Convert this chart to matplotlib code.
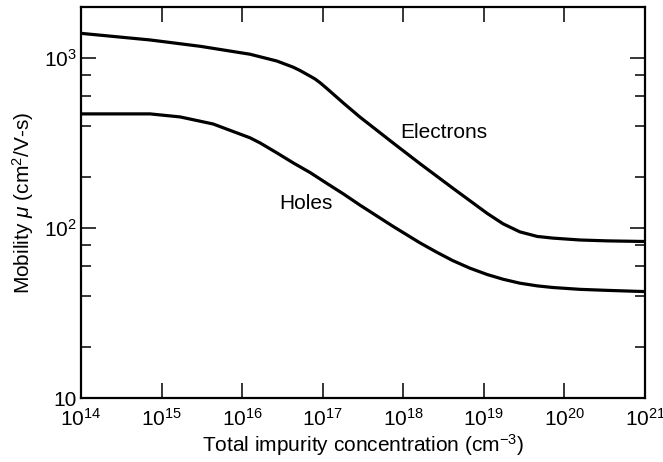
import matplotlib
matplotlib.use('Agg')
import matplotlib.pyplot as plt
from matplotlib.ticker import FixedLocator, NullLocator, NullFormatter

plt.rcParams['font.family'] = ['Liberation Sans', 'DejaVu Sans']
plt.rcParams['mathtext.fontset'] = 'custom'
plt.rcParams['mathtext.rm'] = 'Liberation Sans'
plt.rcParams['mathtext.it'] = 'Liberation Sans:italic'

# values (cm^-3, cm^2/V-s)
electron_conc = [1.0e14, 7.2e14, 3.0e15, 1.25e16, 2.7e16, 4.3e16, 5.2e16, 7.0e16, 8.0e16,
                 9.3e16, 1.13e17, 1.8e17, 2.9e17, 7.4e17, 1.6e18, 4.1e18, 1.1e19,
                 1.73e19, 2.8e19, 4.6e19, 7.2e19, 1.56e20, 3.4e20, 1.0e21]
electron_mob = [1400, 1280, 1175, 1055, 962, 885, 847, 783, 755,
                716, 662, 545, 450, 318, 240, 172, 122,
                106, 95, 89.3, 87.3, 85.1, 84.1, 83.4]

hole_conc = [1.0e14, 7.2e14, 1.7e15, 4.35e15, 1.25e16, 1.67e16, 2.7e16, 4.3e16, 7.0e16,
             1.13e17, 1.8e17, 2.9e17, 7.4e17, 1.6e18, 2.6e18, 4.1e18, 6.7e18, 1.1e19,
             1.73e19, 2.8e19, 4.6e19, 7.2e19, 1.56e20, 3.4e20, 1.0e21]
hole_mob = [470, 470, 451, 410, 340, 317, 277, 242, 212,
            183, 159, 136.5, 102.6, 82.0, 72.1, 64.4, 58.1, 53.3,
            50.0, 47.4, 45.7, 44.7, 43.6, 43.0, 42.3]

x_ticks = [1e14, 1e15, 1e16, 1e17, 1e18, 1e19, 1e20, 1e21]
x_labels = ['$10^{%d}$' % e for e in range(14, 22)]
y_ticks = [10, 100, 1000]
y_labels = ['10', '$10^2$', '$10^3$']
y_minor = [m * 10 ** e for e in range(1, 4) for m in (2, 4, 6, 8)]

fig = plt.figure(figsize=(6.63, 4.62), dpi=100)
ax = fig.add_axes([0.1222, 0.1385, 0.8507, 0.8463])

ax.plot(electron_conc, electron_mob, color='black', lw=2.3,
        solid_capstyle='round', solid_joinstyle='round')
ax.plot(hole_conc, hole_mob, color='black', lw=2.3,
        solid_capstyle='round', solid_joinstyle='round')

ax.set_xscale('log')
ax.set_yscale('log')
ax.set_xlim(1e14, 1e21)
ax.set_ylim(10, 2000)

ax.xaxis.set_major_locator(FixedLocator(x_ticks))
ax.set_xticklabels(x_labels)
ax.xaxis.set_minor_locator(NullLocator())
ax.yaxis.set_major_locator(FixedLocator(y_ticks))
ax.set_yticklabels(y_labels)
ax.yaxis.set_minor_locator(FixedLocator(y_minor))
ax.yaxis.set_minor_formatter(NullFormatter())

ax.tick_params(which='both', direction='in', top=True, right=True, labelsize=15, width=1.1)
ax.tick_params(which='major', length=11)
ax.tick_params(which='minor', length=7)
ax.tick_params(axis='x', pad=7)
ax.tick_params(axis='y', pad=3)
for s in ax.spines.values():
    s.set_linewidth(1.6)

ax.text(3.2e18, 363, 'Electrons', fontsize=15, ha='center', va='center')
ax.text(6.2e16, 139, 'Holes', fontsize=15, ha='center', va='center')

ax.set_xlabel('Total impurity concentration (cm$^{-3}$)', fontsize=15, labelpad=2)
ax.set_ylabel(r'Mobility $\mu$ (cm$^2$/V-s)', fontsize=15, labelpad=6)

fig.savefig('out.png', dpi=100)
